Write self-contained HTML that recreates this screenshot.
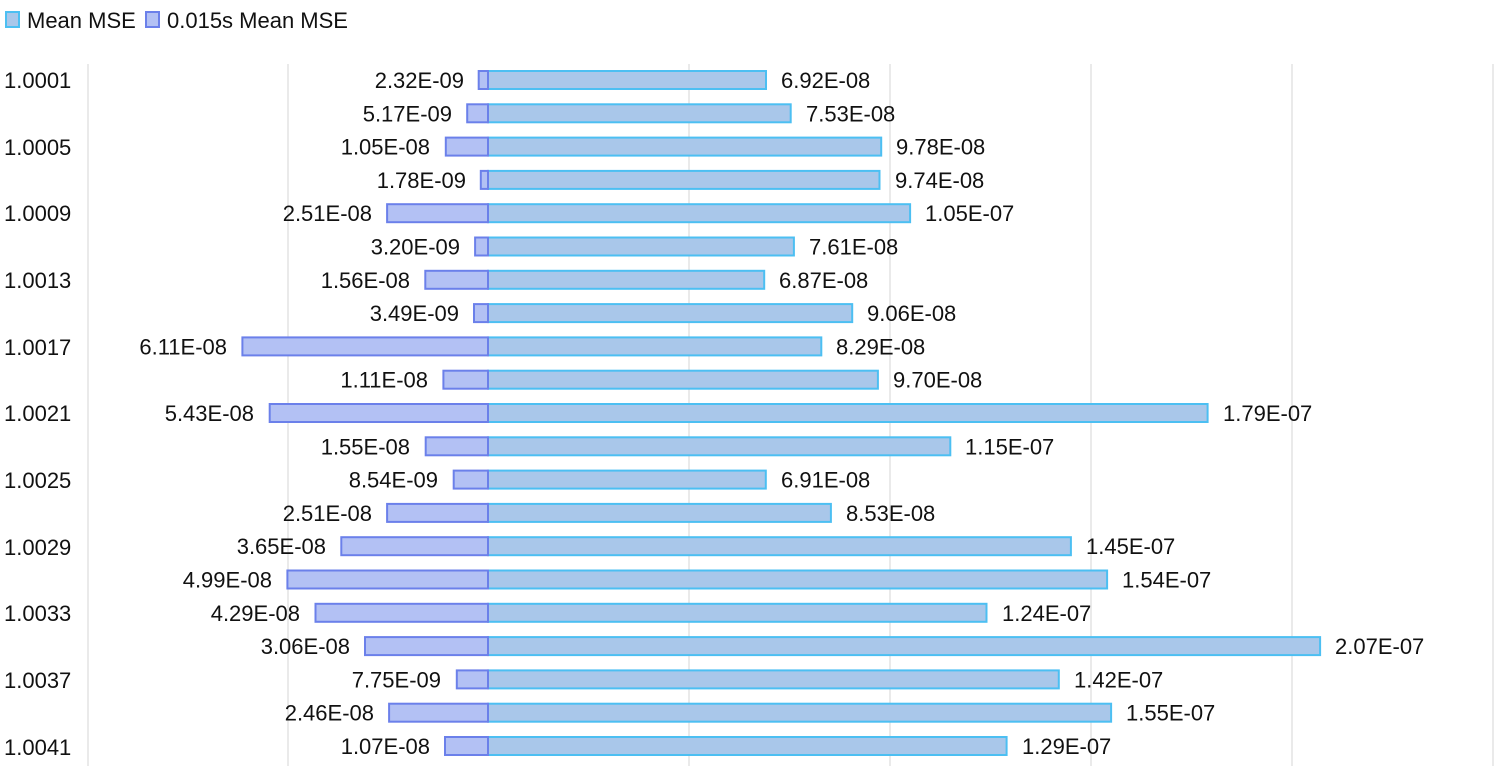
<!DOCTYPE html>
<html><head><meta charset="utf-8"><style>
body{margin:0;background:#fff}
svg{display:block;font-family:"Liberation Sans","Noto Sans CJK SC",sans-serif}
</style></head><body>
<svg width="1502" height="774" xmlns="http://www.w3.org/2000/svg">
<rect x="6" y="12" width="13" height="15" fill="#a9c7ea" stroke="#4cbff2" stroke-width="2"/>
<text x="27" y="28" font-size="22" fill="#111">Mean MSE</text>
<rect x="146" y="12" width="13" height="15" fill="#b3c1f4" stroke="#6b80ea" stroke-width="2"/>
<text x="167" y="28" font-size="22" fill="#111">0.015s Mean MSE</text>
<g stroke="#e3e3e3" stroke-width="1.5">
<line x1="88" y1="64" x2="88" y2="766"/><line x1="288" y1="64" x2="288" y2="766"/><line x1="689" y1="64" x2="689" y2="766"/><line x1="890" y1="64" x2="890" y2="766"/><line x1="1091" y1="64" x2="1091" y2="766"/><line x1="1292" y1="64" x2="1292" y2="766"/><line x1="1493" y1="64" x2="1493" y2="766"/>
</g>
<g font-size="22" fill="#111">
<text x="4" y="88">1.0001</text><text x="4" y="155">1.0005</text><text x="4" y="221">1.0009</text><text x="4" y="288">1.0013</text><text x="4" y="355">1.0017</text><text x="4" y="421">1.0021</text><text x="4" y="488">1.0025</text><text x="4" y="555">1.0029</text><text x="4" y="621">1.0033</text><text x="4" y="688">1.0037</text><text x="4" y="755">1.0041</text>
</g>
<g fill="#a9c7ea" stroke="#4cbff2" stroke-width="2">
<rect x="488" y="71" width="278" height="18"/>
<rect x="488" y="104.3" width="302.7" height="18"/>
<rect x="488" y="137.6" width="393.2" height="18"/>
<rect x="488" y="170.9" width="391.5" height="18"/>
<rect x="488" y="204.2" width="422.1" height="18"/>
<rect x="488" y="237.5" width="305.9" height="18"/>
<rect x="488" y="270.8" width="276.2" height="18"/>
<rect x="488" y="304.1" width="364.2" height="18"/>
<rect x="488" y="337.4" width="333.3" height="18"/>
<rect x="488" y="370.7" width="389.9" height="18"/>
<rect x="488" y="404" width="719.6" height="18"/>
<rect x="488" y="437.3" width="462.3" height="18"/>
<rect x="488" y="470.6" width="277.8" height="18"/>
<rect x="488" y="503.9" width="342.9" height="18"/>
<rect x="488" y="537.2" width="582.9" height="18"/>
<rect x="488" y="570.5" width="619.1" height="18"/>
<rect x="488" y="603.8" width="498.5" height="18"/>
<rect x="488" y="637.1" width="832.1" height="18"/>
<rect x="488" y="670.4" width="570.8" height="18"/>
<rect x="488" y="703.7" width="623.1" height="18"/>
<rect x="488" y="737" width="518.6" height="18"/>
</g>
<g fill="#b3c1f4" stroke="#6b80ea" stroke-width="2">
<rect x="478.7" y="71" width="9.3" height="18"/>
<rect x="467.2" y="104.3" width="20.8" height="18"/>
<rect x="445.8" y="137.6" width="42.2" height="18"/>
<rect x="480.8" y="170.9" width="7.2" height="18"/>
<rect x="387.1" y="204.2" width="100.9" height="18"/>
<rect x="475.1" y="237.5" width="12.9" height="18"/>
<rect x="425.3" y="270.8" width="62.7" height="18"/>
<rect x="474" y="304.1" width="14" height="18"/>
<rect x="242.4" y="337.4" width="245.6" height="18"/>
<rect x="443.4" y="370.7" width="44.6" height="18"/>
<rect x="269.7" y="404" width="218.3" height="18"/>
<rect x="425.7" y="437.3" width="62.3" height="18"/>
<rect x="453.7" y="470.6" width="34.3" height="18"/>
<rect x="387.1" y="503.9" width="100.9" height="18"/>
<rect x="341.3" y="537.2" width="146.7" height="18"/>
<rect x="287.4" y="570.5" width="200.6" height="18"/>
<rect x="315.5" y="603.8" width="172.5" height="18"/>
<rect x="365" y="637.1" width="123" height="18"/>
<rect x="456.8" y="670.4" width="31.2" height="18"/>
<rect x="389.1" y="703.7" width="98.9" height="18"/>
<rect x="445" y="737" width="43" height="18"/>
</g>
<g font-size="22" fill="#111" text-anchor="end">
<text x="464" y="88">2.32E-09</text>
<text x="452" y="121.3">5.17E-09</text>
<text x="430" y="154.6">1.05E-08</text>
<text x="466" y="187.9">1.78E-09</text>
<text x="372" y="221.2">2.51E-08</text>
<text x="460" y="254.5">3.20E-09</text>
<text x="410" y="287.8">1.56E-08</text>
<text x="459" y="321.1">3.49E-09</text>
<text x="227" y="354.4">6.11E-08</text>
<text x="428" y="387.7">1.11E-08</text>
<text x="254" y="421">5.43E-08</text>
<text x="410" y="454.3">1.55E-08</text>
<text x="438" y="487.6">8.54E-09</text>
<text x="372" y="520.9">2.51E-08</text>
<text x="326" y="554.2">3.65E-08</text>
<text x="272" y="587.5">4.99E-08</text>
<text x="300" y="620.8">4.29E-08</text>
<text x="350" y="654.1">3.06E-08</text>
<text x="441" y="687.4">7.75E-09</text>
<text x="374" y="720.7">2.46E-08</text>
<text x="430" y="754">1.07E-08</text>
</g>
<g font-size="22" fill="#111">
<text x="781" y="88">6.92E-08</text>
<text x="806" y="121.3">7.53E-08</text>
<text x="896" y="154.6">9.78E-08</text>
<text x="895" y="187.9">9.74E-08</text>
<text x="925" y="221.2">1.05E-07</text>
<text x="809" y="254.5">7.61E-08</text>
<text x="779" y="287.8">6.87E-08</text>
<text x="867" y="321.1">9.06E-08</text>
<text x="836" y="354.4">8.29E-08</text>
<text x="893" y="387.7">9.70E-08</text>
<text x="1223" y="421">1.79E-07</text>
<text x="965" y="454.3">1.15E-07</text>
<text x="781" y="487.6">6.91E-08</text>
<text x="846" y="520.9">8.53E-08</text>
<text x="1086" y="554.2">1.45E-07</text>
<text x="1122" y="587.5">1.54E-07</text>
<text x="1002" y="620.8">1.24E-07</text>
<text x="1335" y="654.1">2.07E-07</text>
<text x="1074" y="687.4">1.42E-07</text>
<text x="1126" y="720.7">1.55E-07</text>
<text x="1022" y="754">1.29E-07</text>
</g>
</svg>
</body></html>
